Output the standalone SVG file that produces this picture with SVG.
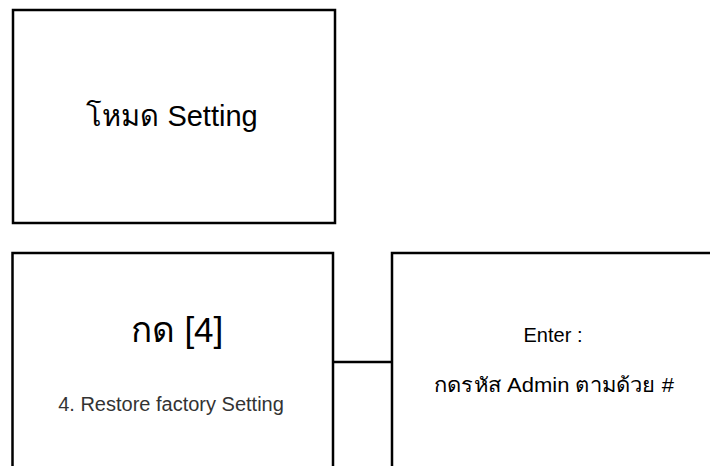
<svg xmlns="http://www.w3.org/2000/svg" width="710" height="466" viewBox="0 0 710 466">
<style>
.box{fill:#fff;stroke:#000;stroke-width:2.5}
.conn{stroke:#000;stroke-width:2.5;fill:none}
text{font-family:"Liberation Sans","Noto Sans",sans-serif;text-anchor:middle;fill:#000}
.t1{font-size:29px}
.t2{font-size:35px}
.t3{font-size:20px;fill:#333}
.t4{font-size:20px}
</style>
<rect width="710" height="466" fill="#fff"/>
<g id="connectors">
<line class="conn" x1="334" y1="362" x2="392" y2="362"/>
</g>
<g id="node-setting">
<rect class="box" x="13" y="10" width="322" height="213"/>
<text class="t1" x="172" y="126">โหมด Setting</text>
</g>
<g id="node-press4">
<rect class="box" x="12.5" y="253" width="320.5" height="240"/>
<text class="t2" x="177" y="342">กด [4]</text>
<text class="t3" x="171" y="411">4. Restore factory Setting</text>
</g>
<g id="node-enter">
<rect class="box" x="392" y="253" width="340" height="240"/>
<text class="t4" x="553" y="342">Enter :</text>
<text class="t4" x="554" y="392" textLength="240" lengthAdjust="spacingAndGlyphs">กดรหัส Admin ตามด้วย #</text>
</g>
</svg>
